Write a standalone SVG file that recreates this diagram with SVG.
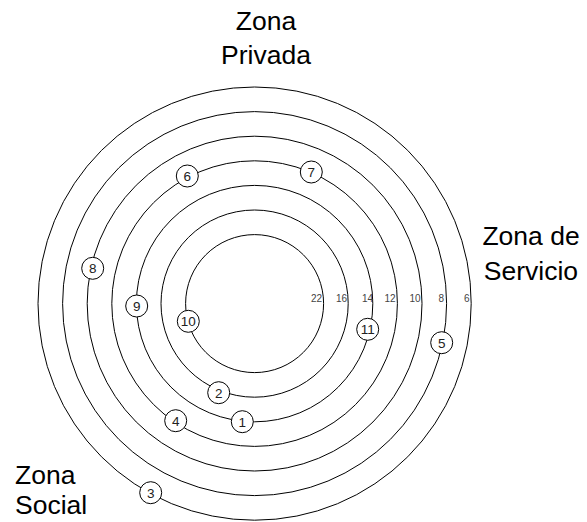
<svg xmlns="http://www.w3.org/2000/svg" width="587" height="522" viewBox="0 0 587 522">
<style>
.ring{fill:none;stroke:#000;stroke-width:1}
.node circle{fill:#fff;stroke:#000;stroke-width:1}
.node text{font-family:"Liberation Sans",Arial,sans-serif;font-size:13.5px;fill:#222;text-anchor:middle}
.dist{font-family:"Liberation Sans",Arial,sans-serif;font-size:10px;fill:#444;text-anchor:end}
.zone{font-family:"Liberation Sans",Arial,sans-serif;font-size:26.5px;fill:#000}
</style>
<rect width="587" height="522" fill="#fff"/>
<g id="connectors">
<circle class="ring" cx="254.6" cy="303.6" r="69"/>
<circle class="ring" cx="254.6" cy="303.6" r="93.6"/>
<circle class="ring" cx="254.6" cy="303.6" r="118.2"/>
<circle class="ring" cx="254.6" cy="303.6" r="142.8"/>
<circle class="ring" cx="254.6" cy="303.6" r="167.4"/>
<circle class="ring" cx="254.6" cy="303.6" r="192"/>
<circle class="ring" cx="254.6" cy="303.6" r="216.6"/>
</g>
<g id="distances">
<text class="dist" x="322" y="301.5">22</text>
<text class="dist" x="347" y="301.5">16</text>
<text class="dist" x="373" y="301.5">14</text>
<text class="dist" x="395.5" y="301.5">12</text>
<text class="dist" x="420.5" y="301.5">10</text>
<text class="dist" x="444" y="301.5">8</text>
<text class="dist" x="469.5" y="301.5">6</text>
</g>
<g id="node-1" class="node"><circle cx="242.3" cy="421.7" r="11"/><text x="242.3" y="426.5">1</text></g>
<g id="node-2" class="node"><circle cx="218.7" cy="392.7" r="11"/><text x="218.7" y="397.5">2</text></g>
<g id="node-3" class="node"><circle cx="150.7" cy="492.7" r="11"/><text x="150.7" y="497.5">3</text></g>
<g id="node-4" class="node"><circle cx="175.7" cy="420.7" r="11"/><text x="175.7" y="425.5">4</text></g>
<g id="node-5" class="node"><circle cx="441.7" cy="342.7" r="11"/><text x="441.7" y="347.5">5</text></g>
<g id="node-6" class="node"><circle cx="187.3" cy="176" r="11"/><text x="187.3" y="180.8">6</text></g>
<g id="node-7" class="node"><circle cx="311.3" cy="172" r="11"/><text x="311.3" y="176.8">7</text></g>
<g id="node-8" class="node"><circle cx="92.7" cy="268.3" r="11"/><text x="92.7" y="273.1">8</text></g>
<g id="node-9" class="node"><circle cx="136.7" cy="306" r="11"/><text x="136.7" y="310.8">9</text></g>
<g id="node-10" class="node"><circle cx="188.3" cy="321.3" r="11"/><text x="188.3" y="326.1">10</text></g>
<g id="node-11" class="node"><circle cx="367.7" cy="329.3" r="11"/><text x="367.7" y="334.1">11</text></g>
<g id="zone-privada"><text class="zone" text-anchor="middle"><tspan x="266" y="30">Zona</tspan><tspan x="266" y="64">Privada</tspan></text></g>
<g id="zone-servicio"><text class="zone" text-anchor="middle"><tspan x="531" y="245">Zona de</tspan><tspan x="531" y="280">Servicio</tspan></text></g>
<g id="zone-social"><text class="zone"><tspan x="15" y="484">Zona</tspan><tspan x="15" y="514">Social</tspan></text></g>
</svg>
